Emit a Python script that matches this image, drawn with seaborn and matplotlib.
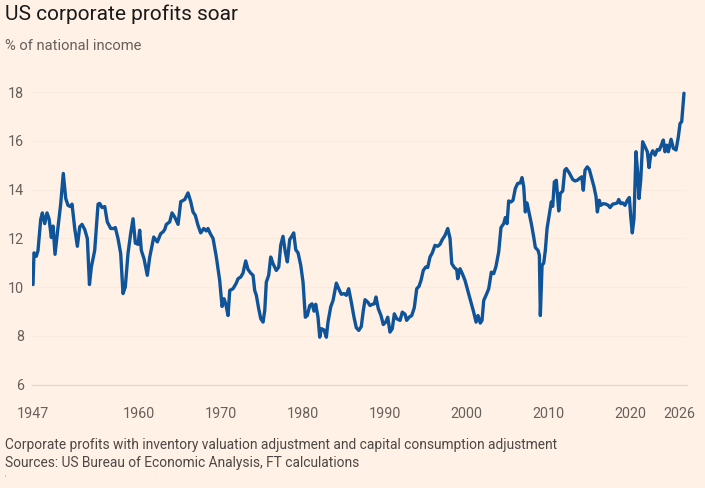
import matplotlib
matplotlib.use("Agg")
import matplotlib.pyplot as plt
import seaborn as sns
import pandas as pd

# ---------------- data ----------------
years = [
    1947.00, 1947.12, 1947.40, 1947.61, 1947.94, 1948.14, 1948.43, 1948.71, 1948.96, 1949.24,
    1949.45, 1949.69, 1949.97, 1950.39, 1950.70, 1951.00, 1951.28, 1951.56, 1951.77, 1952.10,
    1952.42, 1952.71, 1952.99, 1953.32, 1953.64, 1953.90, 1954.13, 1954.54, 1954.95, 1955.15,
    1955.44, 1955.77, 1956.08, 1956.50, 1956.90, 1957.06, 1957.39, 1957.72, 1958.00, 1958.28,
    1958.61, 1958.94, 1959.23, 1959.51, 1959.84, 1960.04, 1960.24, 1960.57, 1960.97, 1961.27,
    1961.76, 1962.20, 1962.61, 1962.89, 1963.10, 1963.30, 1963.71, 1963.99, 1964.32, 1964.73,
    1965.06, 1965.55, 1965.95, 1966.28, 1966.56, 1966.84, 1967.17, 1967.50, 1967.87, 1968.19,
    1968.39, 1968.67, 1969.01, 1969.41, 1969.82, 1970.11, 1970.35, 1970.56, 1970.84, 1971.05,
    1971.45, 1971.85, 1972.06, 1972.39, 1972.67, 1973.00, 1973.28, 1973.61, 1973.90, 1974.10,
    1974.30, 1974.59, 1974.84, 1975.12, 1975.33, 1975.52, 1975.81, 1976.06, 1976.34, 1976.74,
    1977.04, 1977.28, 1977.56, 1977.84, 1978.09, 1978.38, 1978.58, 1978.87, 1979.12, 1979.40,
    1979.73, 1980.01, 1980.29, 1980.53, 1980.83, 1981.11, 1981.35, 1981.56, 1981.84, 1982.05,
    1982.25, 1982.57, 1982.86, 1983.06, 1983.39, 1983.68, 1984.08, 1984.37, 1984.69, 1985.02,
    1985.30, 1985.59, 1985.91, 1986.24, 1986.52, 1986.82, 1987.13, 1987.38, 1987.59, 1987.92,
    1988.20, 1988.48, 1988.72, 1988.93, 1989.21, 1989.54, 1989.82, 1990.12, 1990.36, 1990.64,
    1990.92, 1991.17, 1991.46, 1991.87, 1992.15, 1992.48, 1992.68, 1992.97, 1993.30, 1993.61,
    1993.91, 1994.19, 1994.43, 1994.71, 1995.01, 1995.25, 1995.53, 1995.81, 1996.14, 1996.47,
    1996.75, 1997.04, 1997.37, 1997.70, 1997.98, 1998.19, 1998.50, 1998.80, 1998.92, 1999.20,
    1999.48, 1999.81, 2000.14, 2000.42, 2000.87, 2001.16, 2001.40, 2001.68, 2001.89, 2002.10,
    2002.38, 2002.71, 2003.03, 2003.32, 2003.60, 2003.93, 2004.21, 2004.54, 2004.74, 2004.95,
    2005.15, 2005.43, 2005.68, 2005.96, 2006.25, 2006.57, 2006.78, 2006.99, 2007.18, 2007.39,
    2007.60, 2007.92, 2008.21, 2008.41, 2008.74, 2008.90, 2009.02, 2009.23, 2009.43, 2009.63,
    2009.84, 2010.12, 2010.36, 2010.53, 2010.73, 2010.97, 2011.27, 2011.46, 2011.76, 2012.00,
    2012.20, 2012.56, 2012.98, 2013.26, 2013.54, 2013.79, 2014.08, 2014.27, 2014.48, 2014.76,
    2015.01, 2015.30, 2015.58, 2015.83, 2015.99, 2016.23, 2016.40, 2016.72, 2017.05, 2017.33,
    2017.54, 2017.87, 2018.15, 2018.43, 2018.60, 2018.85, 2019.09, 2019.37, 2019.65, 2019.90,
    2020.07, 2020.26, 2020.47, 2020.71, 2020.92, 2021.08, 2021.29, 2021.53, 2021.82, 2022.10,
    2022.31, 2022.51, 2022.76, 2023.04, 2023.32, 2023.57, 2023.86, 2024.05, 2024.26, 2024.47,
    2024.67, 2025.00, 2025.28, 2025.61, 2025.89, 2026.10, 2026.30, 2026.58,
]
profit_share = [
    10.10, 11.40, 11.26, 11.50, 12.77, 13.04, 12.60, 13.04, 12.80, 12.03,
    12.50, 11.34, 12.20, 13.43, 14.66, 13.63, 13.35, 13.30, 13.40, 12.40,
    11.67, 12.47, 12.57, 12.36, 11.99, 10.10, 10.82, 11.50, 13.40, 13.43,
    13.26, 13.30, 12.67, 12.40, 12.40, 12.44, 11.99, 11.37, 9.73, 10.00,
    11.37, 12.20, 12.80, 11.80, 11.75, 12.33, 11.50, 11.16, 10.48, 11.23,
    12.05, 11.85, 12.19, 12.26, 12.36, 12.57, 12.67, 13.04, 12.87, 12.57,
    13.50, 13.59, 13.86, 13.50, 13.08, 12.94, 12.53, 12.22, 12.40, 12.30,
    12.40, 12.19, 11.99, 11.23, 10.27, 9.20, 9.52, 9.31, 8.83, 9.86,
    9.93, 10.16, 10.34, 10.41, 10.57, 11.07, 10.72, 10.57, 10.48, 9.86,
    9.66, 9.11, 8.70, 8.56, 9.04, 10.20, 10.48, 11.23, 10.96, 10.68,
    10.82, 11.71, 12.08, 11.44, 11.03, 11.95, 12.05, 12.22, 11.53, 11.40,
    10.89, 10.20, 8.76, 8.83, 9.24, 9.31, 9.01, 9.29, 8.76, 7.94,
    8.29, 8.24, 7.94, 8.56, 9.18, 9.45, 10.16, 9.93, 9.70, 9.73,
    9.66, 9.93, 9.38, 8.76, 8.33, 8.22, 8.38, 9.04, 9.48, 9.38,
    9.24, 9.29, 9.31, 9.59, 9.11, 8.83, 8.46, 8.56, 8.76, 8.15,
    8.29, 8.90, 8.70, 8.63, 8.97, 8.88, 8.63, 8.76, 8.83, 9.15,
    9.93, 10.03, 10.27, 10.68, 10.82, 10.80, 11.23, 11.40, 11.71, 11.67,
    11.75, 11.95, 12.12, 12.40, 11.99, 10.96, 10.80, 10.71, 10.34, 10.75,
    10.55, 10.27, 9.86, 9.50, 8.97, 8.56, 8.83, 8.52, 8.63, 9.45,
    9.66, 9.93, 10.61, 10.55, 10.85, 11.44, 12.44, 12.60, 12.85, 12.60,
    13.53, 13.49, 13.56, 14.04, 14.25, 14.27, 14.49, 14.11, 13.08, 13.45,
    13.12, 12.60, 12.05, 11.62, 11.50, 11.30, 8.83, 10.89, 10.98, 11.50,
    12.40, 12.99, 13.49, 13.31, 14.31, 14.38, 13.12, 13.84, 13.94, 14.79,
    14.86, 14.68, 14.41, 14.35, 14.38, 14.45, 14.52, 13.97, 14.79, 14.93,
    14.82, 14.45, 14.11, 13.70, 13.08, 13.56, 13.35, 13.42, 13.40, 13.35,
    13.26, 13.40, 13.42, 13.45, 13.59, 13.42, 13.45, 13.35, 13.56, 13.67,
    12.90, 12.22, 12.81, 15.55, 14.66, 13.63, 14.38, 15.96, 15.75, 15.55,
    14.90, 15.41, 15.59, 15.41, 15.64, 15.62, 15.86, 16.03, 15.55, 15.82,
    15.55, 16.06, 15.69, 15.62, 16.16, 16.71, 16.78, 17.95,
]
y_ticks = [6, 8, 10, 12, 14, 16, 18]
x_ticks = [1947, 1960, 1970, 1980, 1990, 2000, 2010, 2020, 2026]
x_tick_labels = ["1947", "1960", "1970", "1980", "1990", "2000", "2010", "2020", "2026"]
minor_years = list(range(1947, 2027))

title = "US corporate profits soar"
subtitle = "% of national income"
note = "Corporate profits with inventory valuation adjustment and capital consumption adjustment"
source = "Sources: US Bureau of Economic Analysis, FT calculations"

# ---------------- style ----------------
BG = "#fff1e5"
LINE = "#0f5499"
GRID = "#fbebdf"
AXIS = "#e3d6cb"
TICKTXT = "#66605c"

sns.set_theme(style="white", rc={
    "axes.facecolor": BG,
    "figure.facecolor": BG,
    "savefig.facecolor": BG,
})
plt.rcParams["font.family"] = ["Roboto", "DejaVu Sans"]

W, H = 705, 488
fig = plt.figure(figsize=(W / 100, H / 100), dpi=100)
ax = fig.add_axes([32.2 / W, 103.5 / H, 654.4 / W, 299.8 / H])

df = pd.DataFrame({"year": years, "share": profit_share})
sns.lineplot(data=df, x="year", y="share", ax=ax, color=LINE, linewidth=2.4,
             estimator=None, sort=False)

ax.set_xlim(1946.9, 2026.9)
ax.set_ylim(6, 18.3)
ax.set_xlabel("")
ax.set_ylabel("")

ax.set_yticks(y_ticks)
ax.set_yticklabels([str(v) for v in y_ticks])
ax.set_xticks(x_ticks)
ax.set_xticklabels(x_tick_labels)
ax.set_xticks(minor_years, minor=True)

ax.tick_params(axis="y", length=0, pad=6, labelsize=10.3, labelcolor=TICKTXT)
ax.tick_params(axis="x", which="major", length=7, width=0.8, color=AXIS,
               pad=9, labelsize=10.3, labelcolor=TICKTXT, direction="out")
ax.tick_params(axis="x", which="minor", length=7, width=0.8, color=AXIS,
               direction="out")

for v in y_ticks[1:]:
    ax.axhline(v, color=GRID, linewidth=0.9, zorder=0)

for s in ["top", "right", "left"]:
    ax.spines[s].set_visible(False)
ax.spines["bottom"].set_color(AXIS)
ax.spines["bottom"].set_linewidth(0.9)

# ---------------- text ----------------
fig.text(5 / W, 1 - 20.5 / H, title, fontsize=15, color="#1a1a1a", va="baseline", ha="left")
fig.text(5 / W, 1 - 50 / H, subtitle, fontsize=10.6, color=TICKTXT, va="baseline", ha="left")
fig.text(5 / W, 1 - 449 / H, note, fontsize=9.9, color="#4d4845", va="baseline", ha="left")
fig.text(5 / W, 1 - 467 / H, source, fontsize=9.9, color="#4d4845", va="baseline", ha="left")
fig.text(5 / W, 1 - 479 / H, "'", fontsize=5, color="#8a827c", va="baseline", ha="left")

fig.savefig("out.png", dpi=100, facecolor=BG)
